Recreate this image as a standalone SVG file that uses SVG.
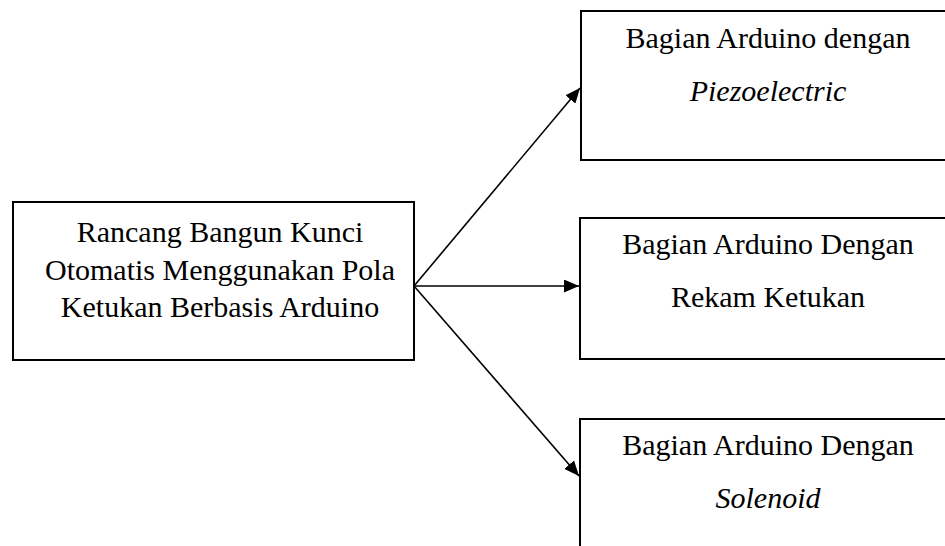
<svg xmlns="http://www.w3.org/2000/svg" width="945" height="546" viewBox="0 0 945 546">
<style>
.box{fill:#fff;stroke:#000;stroke-width:2}
.t{font-family:"Liberation Serif","Times New Roman",serif;font-size:30px;fill:#000;text-anchor:middle}
.i{font-style:italic}
.edge{stroke:#000;stroke-width:1.6;fill:none}
</style>
<defs>
<marker id="ah" markerUnits="userSpaceOnUse" markerWidth="16" markerHeight="13" refX="15" refY="6.5" orient="auto">
<path d="M0,0 L15,6.5 L0,13 z" fill="#000"/>
</marker>
</defs>
<rect width="945" height="546" fill="#fff"/>
<g id="main">
<rect class="box" x="13" y="202" width="401" height="158"/>
<text class="t" x="220" y="242">Rancang Bangun Kunci</text>
<text class="t" x="220" y="280">Otomatis Menggunakan Pola</text>
<text class="t" x="220" y="317">Ketukan Berbasis Arduino</text>
</g>
<g id="piezo">
<rect class="box" x="581" y="11" width="380" height="149"/>
<text class="t" x="768" y="48">Bagian Arduino dengan</text>
<text class="t i" x="768" y="101">Piezoelectric</text>
</g>
<g id="rekam">
<rect class="box" x="580" y="218" width="380" height="141"/>
<text class="t" x="768" y="254">Bagian Arduino Dengan</text>
<text class="t" x="768" y="307">Rekam Ketukan</text>
</g>
<g id="solenoid">
<rect class="box" x="580" y="419" width="380" height="160"/>
<text class="t" x="768" y="455">Bagian Arduino Dengan</text>
<text class="t i" x="768" y="508">Solenoid</text>
</g>
<g id="connectors">
<line class="edge" x1="414" y1="286" x2="580" y2="88" marker-end="url(#ah)"/>
<line class="edge" x1="414" y1="286" x2="579" y2="286" marker-end="url(#ah)"/>
<line class="edge" x1="414" y1="286" x2="579" y2="476" marker-end="url(#ah)"/>
</g>
</svg>
